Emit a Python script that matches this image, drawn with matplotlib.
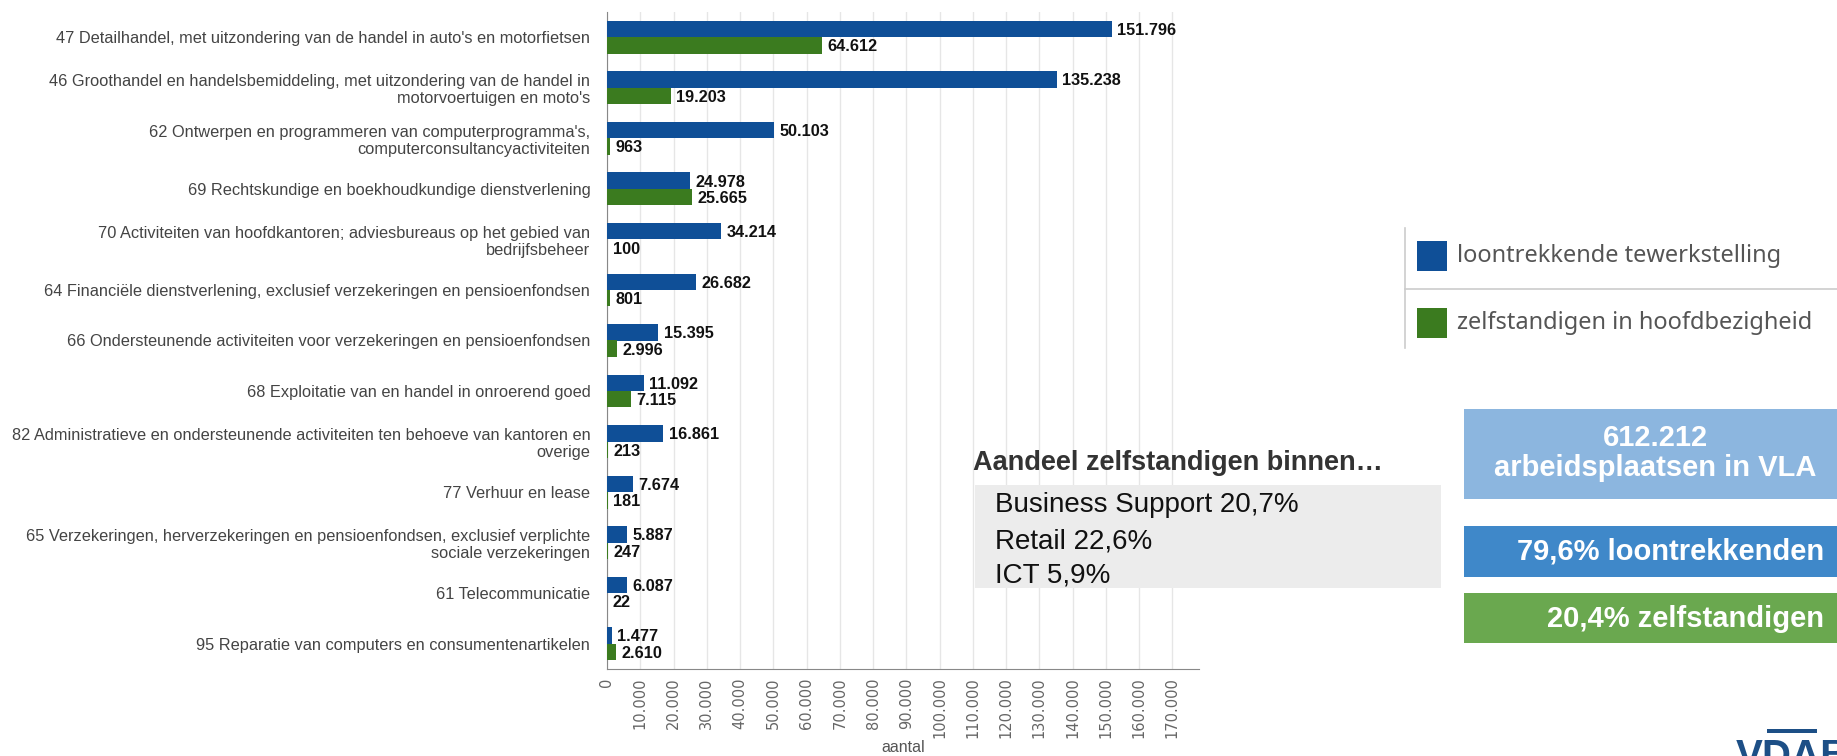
import matplotlib.pyplot as plt
from matplotlib.patches import Rectangle
from matplotlib.ticker import FuncFormatter


categories = [
    "47 Detailhandel, met uitzondering van de handel in auto's en motorfietsen",
    "46 Groothandel en handelsbemiddeling, met uitzondering van de handel in\nmotorvoertuigen en moto's",
    "62 Ontwerpen en programmeren van computerprogramma's,\ncomputerconsultancyactiviteiten",
    "69 Rechtskundige en boekhoudkundige dienstverlening",
    "70 Activiteiten van hoofdkantoren; adviesbureaus op het gebied van\nbedrijfsbeheer",
    "64 Financiële dienstverlening, exclusief verzekeringen en pensioenfondsen",
    "66 Ondersteunende activiteiten voor verzekeringen en pensioenfondsen",
    "68 Exploitatie van en handel in onroerend goed",
    "82 Administratieve en ondersteunende activiteiten ten behoeve van kantoren en\noverige",
    "77 Verhuur en lease",
    "65 Verzekeringen, herverzekeringen en pensioenfondsen, exclusief verplichte\nsociale verzekeringen",
    "61 Telecommunicatie",
    "95 Reparatie van computers en consumentenartikelen",
]
loontrekkend = [151796, 135238, 50103, 24978, 34214, 26682, 15395, 11092, 16861, 7674, 5887, 6087, 1477]
zelfstandig = [64612, 19203, 963, 25665, 100, 801, 2996, 7115, 213, 181, 247, 22, 2610]

series_names = ["loontrekkende tewerkstelling", "zelfstandigen in hoofdbezigheid"]
tick_values = list(range(0, 170001, 10000))

aandeel_title = "Aandeel zelfstandigen binnen…"
aandeel_lines = ["Business Support 20,7%", "Retail 22,6%", "ICT 5,9%"]
kpi_total = "612.212\narbeidsplaatsen in VLA"
kpi_loon = "79,6% loontrekkenden"
kpi_zelf = "20,4% zelfstandigen"

BLUE = "#0f4f97"
GREEN = "#3b7b1f"
SANS = ["Liberation Sans", "DejaVu Sans"]

W, H = 1837, 756


def dots(v):
    return f"{v:,.0f}".replace(",", ".")


def box(fig, x0, y0, x1, y1, color):
    # pixel coords from the top-left corner
    fig.add_artist(Rectangle((x0 / W, 1 - y1 / H), (x1 - x0) / W, (y1 - y0) / H,
                             transform=fig.transFigure, facecolor=color,
                             edgecolor="none", zorder=5))


def line(fig, xs, ys, color="#cccccc"):
    fig.add_artist(plt.Line2D([x / W for x in xs], [1 - y / H for y in ys],
                              transform=fig.transFigure, color=color, lw=1.2, zorder=5))


def text(fig, x, y, s, **kw):
    kw.setdefault("zorder", 6)
    fig.text(x / W, 1 - y / H, s, **kw)


def plot_bars(fig):
    ax = fig.add_axes([607 / W, 1 - 669 / H, (1199 - 607) / W, (669 - 12) / H])
    n = len(categories)
    pos = list(range(n))
    h = 0.325
    b1 = ax.barh([p - h / 2 for p in pos], loontrekkend, height=h, color=BLUE, zorder=3)
    b2 = ax.barh([p + h / 2 for p in pos], zelfstandig, height=h, color=GREEN, zorder=3)

    for bars, vals in ((b1, loontrekkend), (b2, zelfstandig)):
        for bar, v in zip(bars, vals):
            ax.annotate(dots(v), (v, bar.get_y() + bar.get_height() / 2),
                        xytext=(4, -1), textcoords="offset points", ha="left", va="center",
                        fontsize=11.7, fontweight="bold", family=SANS, color="#111111")

    ax.set_ylim(n - 0.5, -0.5)
    ax.set_xlim(0, 178000)
    ax.set_yticks(pos)
    ax.set_yticklabels(categories, family=SANS, fontsize=11.8, color="#444444",
                       linespacing=1.15)
    ax.set_xticks(tick_values)
    ax.xaxis.set_major_formatter(FuncFormatter(lambda v, _: dots(v)))
    ax.tick_params(axis="x", length=0, pad=6, labelsize=10.5, labelcolor="#666666",
                   labelrotation=90)
    ax.tick_params(axis="y", length=0, pad=12)
    ax.grid(axis="x", color="#e6e6e6", lw=1, zorder=0)
    for s in ("top", "right"):
        ax.spines[s].set_visible(False)
    ax.spines["left"].set_color("#888888")
    ax.spines["bottom"].set_color("#888888")
    text(fig, 903, 747, "aantal", ha="center", va="center", fontsize=11.5,
         family=SANS, color="#555555")


def plot_side(fig):
    # legend
    line(fig, [1405, 1405], [228, 348])
    line(fig, [1405, 1837], [289, 289])
    box(fig, 1417, 241, 1447, 271, BLUE)
    box(fig, 1417, 308, 1447, 338, GREEN)
    text(fig, 1457, 256, series_names[0], va="center", fontsize=17,
         family=["Noto Sans", "DejaVu Sans"], color="#555555")
    text(fig, 1457, 323, series_names[1], va="center", fontsize=17,
         family=["Noto Sans", "DejaVu Sans"], color="#555555")

    # aandeel box
    text(fig, 973, 470, aandeel_title, va="baseline", fontsize=19.5, fontweight="bold",
         family=SANS, color="#333333")
    box(fig, 975, 485, 1441, 588, "#ececec")
    for s, y in zip(aandeel_lines, [512, 548, 582]):
        text(fig, 995, y, s, va="baseline", fontsize=20, family=SANS, color="#111111")

    # kpi boxes
    box(fig, 1464, 409, 1837, 499, "#8cb6df")
    text(fig, 1655, 453, kpi_total, ha="center", va="center", fontsize=21,
         fontweight="bold", family=SANS, color="white", linespacing=1.1)
    box(fig, 1464, 526, 1837, 577, "#3f88c9")
    text(fig, 1824, 552, kpi_loon, ha="right", va="center", fontsize=21,
         fontweight="bold", family=SANS, color="white")
    box(fig, 1464, 593, 1837, 643, "#6aa84f")
    text(fig, 1824, 619, kpi_zelf, ha="right", va="center", fontsize=21,
         fontweight="bold", family=SANS, color="white")

    # logo, cut off by the edge as in the screenshot
    box(fig, 1767, 729, 1817, 733, "#1d4f86")
    text(fig, 1736, 738, "VDAB", ha="left", va="top", fontsize=29, fontweight="bold",
         family=SANS, color="#1d4f86")


def main():
    fig = plt.figure(figsize=(W / 100, H / 100), dpi=100)
    plot_bars(fig)
    plot_side(fig)
    fig.savefig("out.png", dpi=100)


if __name__ == "__main__":
    main()
